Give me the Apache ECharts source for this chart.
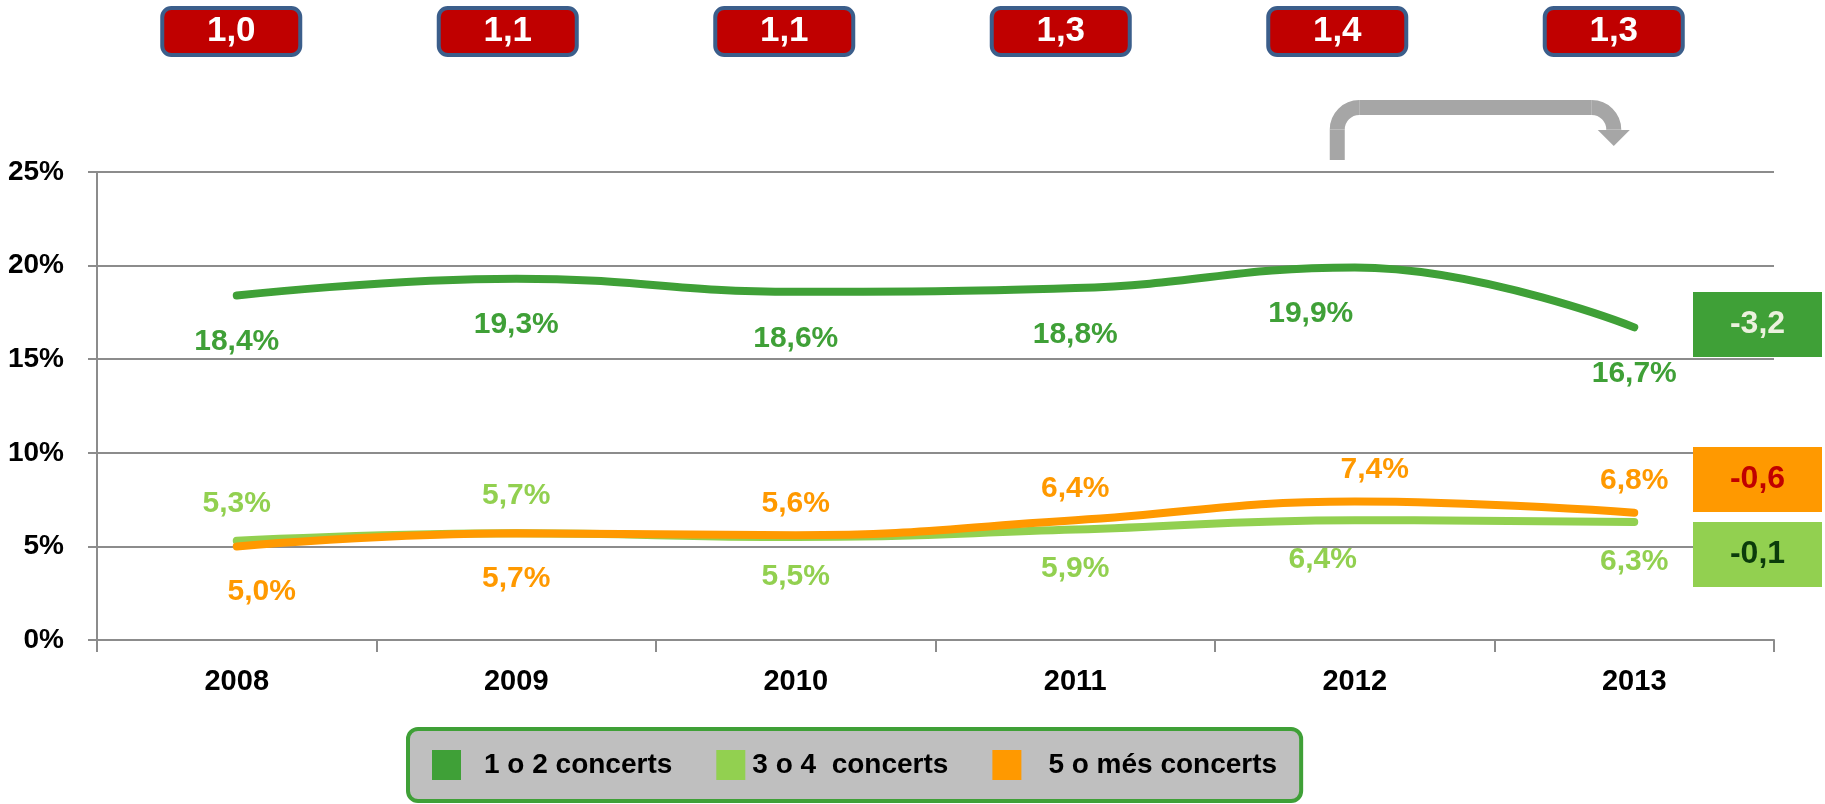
<!DOCTYPE html>
<html>
<head>
<meta charset="utf-8">
<script src="https://cdn.jsdelivr.net/npm/echarts@6/dist/echarts.min.js"></script>
<style>
html, body { margin: 0; padding: 0; background: #fff; }
#chart { width: 1825px; height: 804px; }
</style>
</head>
<body>
<div id="chart"></div>
<script>
// values
const years = ["2008", "2009", "2010", "2011", "2012", "2013"];
const concertsPerPerson = ["1,0", "1,1", "1,1", "1,3", "1,4", "1,3"];
const oneOrTwo = [18.4, 19.3, 18.6, 18.8, 19.9, 16.7];
const threeOrFour = [5.3, 5.7, 5.5, 5.9, 6.4, 6.3];
const fiveOrMore = [5.0, 5.7, 5.6, 6.4, 7.4, 6.8];
const seriesNames = ["1 o 2 concerts", "3 o 4  concerts", "5 o més concerts"];

const FONT = "'Liberation Sans', Arial, sans-serif";
const DARK = "#3FA037";
const LIGHT = "#92D050";
const ORANGE = "#FF9900";
const GRIDGRAY = "#8C8C8C";

const fmtPct = (v) => v.toFixed(1).replace(".", ",") + "%";
const fmtDiff = (v) => v.toFixed(1).replace(".", ",");

// Excel put a few labels slightly off-centre
const nudges = {
	dark: { 4: -44 },
	light: { 4: -32 },
	orange: { 0: 25, 4: 20 },
};
// label gap to the point, above / below
const gaps = {
	dark: { top: 22, bottom: 31 },
	light: { top: 22, bottom: 24 },
	orange: { top: 16, bottom: 30 },
};

function points(values, key, posFor) {
	return values.map((v, i) => {
		const pos = posFor(i);
		return {
			value: v,
			label: {
				position: pos,
				distance: gaps[key][pos],
				offset: [nudges[key][i] || 0, 0],
			},
		};
	});
}

function lineSeries(name, values, color, key, posFor, z) {
	return {
		name: name,
		type: "line",
		smooth: 0.45,
		symbol: "circle",
		symbolSize: 1,
		showSymbol: true,
		z: z,
		lineStyle: { color: color, width: 8, cap: "round" },
		itemStyle: { color: color },
		label: {
			show: true,
			color: color,
			fontFamily: FONT,
			fontWeight: "bold",
			fontSize: 30,
			formatter: (p) => fmtPct(p.value),
		},
		data: points(values, key, posFor),
	};
}

var chart = echarts.init(document.getElementById("chart"), null, { renderer: "canvas" });

var option = {
	animation: false,
	backgroundColor: "#fff",
	grid: [
		{ left: 97, right: 51, top: 172, bottom: 164 },
		// the red boxes sit on a slightly tighter spacing than the plot
		{ left: 93, right: 73, top: 172, bottom: 164 },
	],
	legend: {
		data: seriesNames,
		left: 408,
		top: 729,
		icon: "rect",
		itemWidth: 29,
		itemHeight: 30,
		itemGap: 44,
		padding: [21, 24, 21, 24],
		backgroundColor: "#BFBFBF",
		borderColor: DARK,
		borderWidth: 4,
		borderRadius: 10,
		formatter: (name) => "{i" + seriesNames.indexOf(name) + "|" + name + "}",
		textStyle: {
			color: "#000",
			fontFamily: FONT,
			fontWeight: "bold",
			fontSize: 28,
			rich: {
				i0: { fontFamily: FONT, fontWeight: "bold", fontSize: 28, padding: [0, 0, 0, 18] },
				i1: { fontFamily: FONT, fontWeight: "bold", fontSize: 28, padding: [0, 0, 0, 2] },
				i2: { fontFamily: FONT, fontWeight: "bold", fontSize: 28, padding: [0, 0, 0, 22] },
			},
		},
	},
	xAxis: [
		{
			type: "category",
			data: years,
			boundaryGap: true,
			axisLine: { lineStyle: { color: GRIDGRAY, width: 2 } },
			axisTick: { show: true, length: 12, lineStyle: { color: GRIDGRAY, width: 2 } },
			axisLabel: {
				color: "#000",
				fontFamily: FONT,
				fontWeight: "bold",
				fontSize: 29,
				margin: 27,
			},
		},
		{
			type: "category",
			gridIndex: 1,
			data: years,
			position: "top",
			boundaryGap: true,
			axisLine: { show: false },
			axisTick: { show: false },
			splitLine: { show: false },
			axisLabel: {
				margin: 119,
				formatter: (v, i) => concertsPerPerson[i],
				color: "#fff",
				fontFamily: FONT,
				fontWeight: "bold",
				fontSize: 35,
				backgroundColor: "#C00000",
				borderColor: "#3B5E8B",
				borderWidth: 4,
				borderRadius: 7,
				width: 134,
				height: 43,
				lineHeight: 43,
				align: "center",
			},
		},
	],
	yAxis: [
		{
			type: "value",
			min: 0,
			max: 25,
			interval: 5,
			axisLine: { show: true, lineStyle: { color: GRIDGRAY, width: 2 } },
			axisTick: { show: true, length: 9, lineStyle: { color: GRIDGRAY, width: 2 } },
			splitLine: { show: true, lineStyle: { color: GRIDGRAY, width: 2 } },
			axisLabel: {
				formatter: "{value}%",
				color: "#000",
				fontFamily: FONT,
				fontWeight: "bold",
				fontSize: 28,
				margin: 33,
			},
		},
		{ type: "value", gridIndex: 1, show: false, min: 0, max: 25 },
	],
	series: [
		lineSeries(seriesNames[0], oneOrTwo, DARK, "dark", () => "bottom", 3),
		lineSeries(seriesNames[1], threeOrFour, LIGHT, "light",
			(i) => (fiveOrMore[i] > threeOrFour[i] ? "bottom" : "top"), 2),
		lineSeries(seriesNames[2], fiveOrMore, ORANGE, "orange",
			(i) => (fiveOrMore[i] > threeOrFour[i] ? "top" : "bottom"), 4),
	],
};

chart.setOption(option);

// change between the last two years, boxes on the right
const last = years.length - 1;
const changes = [
	{ v: oneOrTwo[last] - oneOrTwo[last - 1], fill: DARK, text: "#EBF1DE", y: 292 },
	{ v: fiveOrMore[last] - fiveOrMore[last - 1], fill: ORANGE, text: "#C00000", y: 447 },
	{ v: threeOrFour[last] - threeOrFour[last - 1], fill: LIGHT, text: "#0B3B0B", y: 522 },
];

// arrow from the 2012 box to the 2013 box
const x1 = chart.convertToPixel({ xAxisIndex: 1 }, years[last - 1]);
const x2 = chart.convertToPixel({ xAxisIndex: 1 }, years[last]);
const ay = 107.5;
const r = 22;
const arrowStyle = { fill: null, stroke: "#A6A6A6", lineWidth: 15 };

var graphics = [
	{ type: "line", shape: { x1: x1, y1: 160, x2: x1, y2: ay + r }, style: arrowStyle },
	{
		type: "arc",
		shape: { cx: x1 + r, cy: ay + r, r: r, startAngle: Math.PI, endAngle: Math.PI * 1.5 },
		style: arrowStyle,
	},
	{ type: "line", shape: { x1: x1 + r, y1: ay, x2: x2 - r, y2: ay }, style: arrowStyle },
	{
		type: "arc",
		shape: { cx: x2 - r, cy: ay + r, r: r, startAngle: Math.PI * 1.5, endAngle: Math.PI * 2 },
		style: arrowStyle,
	},
	{ type: "line", shape: { x1: x2, y1: ay + r, x2: x2, y2: 133 }, style: arrowStyle },
	{
		type: "polygon",
		shape: { points: [[x2 - 16, 130], [x2 + 16, 130], [x2, 146]] },
		style: { fill: "#A6A6A6" },
	},
];

changes.forEach((c) => {
	graphics.push({
		type: "group",
		x: 1693,
		y: c.y,
		children: [
			{ type: "rect", shape: { x: 0, y: 0, width: 129, height: 65 }, style: { fill: c.fill } },
			{
				type: "text",
				x: 64.5,
				y: 32.5,
				style: {
					text: fmtDiff(c.v),
					fill: c.text,
					font: "bold 32px " + FONT,
					align: "center",
					verticalAlign: "middle",
				},
			},
		],
	});
});

chart.setOption({ graphic: graphics });
</script>
</body>
</html>
